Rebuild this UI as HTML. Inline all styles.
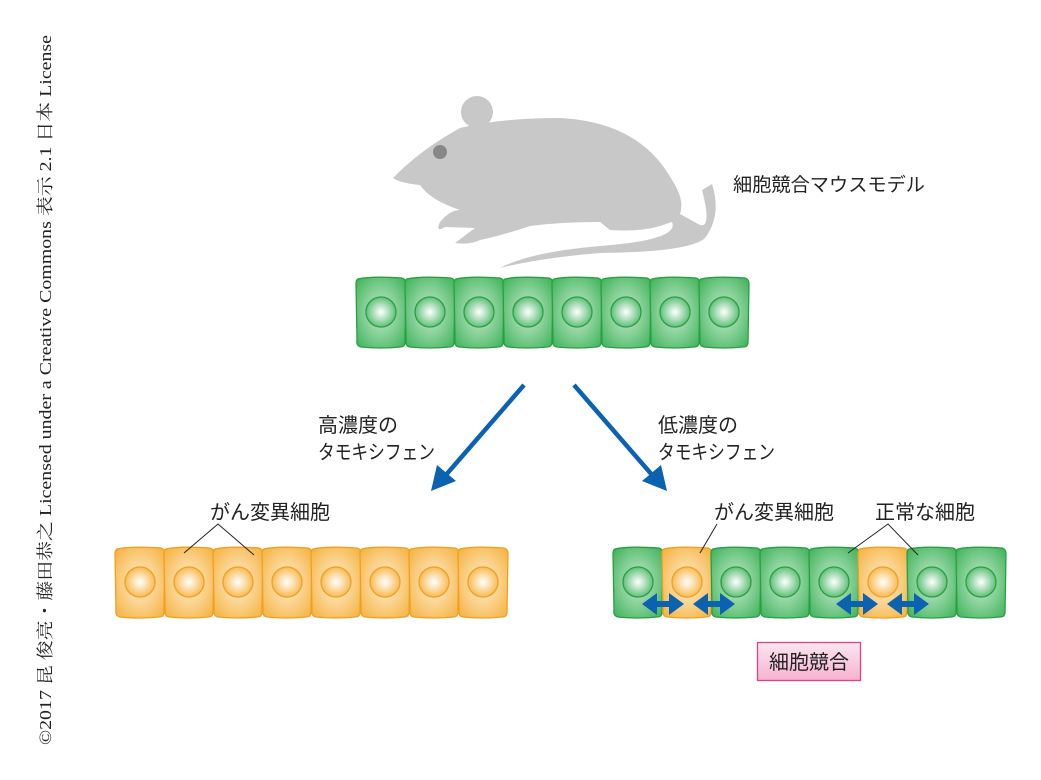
<!DOCTYPE html>
<html><head><meta charset="utf-8"><style>
html,body{margin:0;padding:0;background:#fff}
svg{display:block}
text{font-family:"Liberation Sans","Noto Sans CJK JP",sans-serif;fill:#222}
</style></head><body>
<svg width="1041" height="780" viewBox="0 0 1041 780" xmlns="http://www.w3.org/2000/svg">
<defs>
<radialGradient id="gb" cx="0.5" cy="0.5" r="0.65"><stop offset="0" stop-color="#c8ebd0"/><stop offset="1" stop-color="#45b55f"/></radialGradient>
<radialGradient id="gn" cx="0.5" cy="0.5" r="0.5"><stop offset="0" stop-color="#ffffff"/><stop offset="1" stop-color="#62c07a"/></radialGradient>
<radialGradient id="ob" cx="0.5" cy="0.5" r="0.65"><stop offset="0" stop-color="#ffefd2"/><stop offset="1" stop-color="#f6b445"/></radialGradient>
<radialGradient id="on" cx="0.5" cy="0.5" r="0.5"><stop offset="0" stop-color="#ffffff"/><stop offset="1" stop-color="#f8bb55"/></radialGradient>
<linearGradient id="pk" x1="0" y1="0" x2="0" y2="1"><stop offset="0" stop-color="#fde6f0"/><stop offset="1" stop-color="#f5b3cf"/></linearGradient>
<g id="gc"><path d="M-23,-33 Q-10,-36 21,-34 Q25,-33 25,-28 L24,30 Q24,35 19,35 Q0,37 -20,35 Q-25,34 -24,28 L-25,-28 Q-25,-32 -23,-33Z" fill="url(#gb)" stroke="#28a040" stroke-width="1.3"/><circle r="15" fill="url(#gn)" stroke="#28a040" stroke-width="1.3"/></g>
<g id="oc"><path d="M-23,-33 Q-10,-36 21,-34 Q25,-33 25,-28 L24,30 Q24,35 19,35 Q0,37 -20,35 Q-25,34 -24,28 L-25,-28 Q-25,-32 -23,-33Z" fill="url(#ob)" stroke="#f0a020" stroke-width="1.3"/><circle r="15" fill="url(#on)" stroke="#f0a020" stroke-width="1.3"/></g>
<path id="da" d="M0,0 L15,-11 L15,-3 L27,-3 L27,-11 L42,0 L27,11 L27,3 L15,3 L15,11Z" fill="#0a62b0"/>
</defs>

<text transform="translate(51,745) rotate(-90)" style="font-family:'Liberation Serif','Noto Serif CJK SC',serif;font-size:17px" textLength="710" lengthAdjust="spacingAndGlyphs">©2017 昆 俊亮・藤田恭之 Licensed under a Creative Commons 表示 2.1 日本 License</text>

<!-- mouse -->
<g fill="#c8c8c9">
<circle cx="477" cy="112" r="16"/>
<path d="M393,178 Q420,150 460,128 Q500,118 560,118 Q640,122 672,180 Q685,200 680,214 L700,225 Q712,228 702,190 L712,184 Q722,215 705,238 Q690,252 600,253 Q540,258 500,268 Q530,252 600,246 Q680,240 672,222 L660,226 Q640,232 610,230 L600,222 Q560,222 530,226 Q500,236 480,240 Q470,245 455,243 L475,228 L445,227 Q435,233 440,222 Q450,210 460,210 Q430,200 420,185 Q400,183 393,178Z"/>
</g>
<circle cx="440" cy="152" r="7" fill="#888"/>
<text x="733" y="191" font-size="19" textLength="192" lengthAdjust="spacingAndGlyphs">細胞競合マウスモデル</text>

<!-- top row -->
<g transform="translate(0,312)">
<use href="#gc" x="381"/><use href="#gc" x="430"/><use href="#gc" x="479"/><use href="#gc" x="528"/><use href="#gc" x="577"/><use href="#gc" x="626"/><use href="#gc" x="675"/><use href="#gc" x="724"/>
</g>

<!-- arrows -->
<g stroke="#0a62b0" stroke-width="4.5" fill="none"><line x1="524" y1="385" x2="445" y2="476"/><line x1="574" y1="385" x2="653" y2="476"/></g>
<path d="M431,491 L437,465 L456,481Z" fill="#0a62b0"/>
<path d="M667,491 L661,465 L642,481Z" fill="#0a62b0"/>
<text x="318" y="432" font-size="20">高濃度の</text>
<text x="318" y="459" font-size="20" textLength="117" lengthAdjust="spacingAndGlyphs">タモキシフェン</text>
<text x="658" y="432" font-size="20">低濃度の</text>
<text x="658" y="459" font-size="20" textLength="117" lengthAdjust="spacingAndGlyphs">タモキシフェン</text>

<!-- left row -->
<text x="210" y="519" font-size="20">がん変異細胞</text>
<g transform="translate(0,582)">
<use href="#oc" x="140"/><use href="#oc" x="189"/><use href="#oc" x="238"/><use href="#oc" x="287"/><use href="#oc" x="336"/><use href="#oc" x="385"/><use href="#oc" x="434"/><use href="#oc" x="483"/>
</g>
<polyline points="184,553 218,524 254,555" fill="none" stroke="#222" stroke-width="1"/>

<!-- right row -->
<text x="714" y="519" font-size="20">がん変異細胞</text>
<text x="875" y="519" font-size="20">正常な細胞</text>
<g transform="translate(0,582)">
<use href="#gc" x="638"/><use href="#oc" x="687"/><use href="#gc" x="736"/><use href="#gc" x="785"/><use href="#gc" x="834"/><use href="#oc" x="883"/><use href="#gc" x="932"/><use href="#gc" x="981"/>
</g>
<line x1="717" y1="524" x2="700" y2="553" stroke="#222" stroke-width="1"/>
<polyline points="848,553 888,524 918,555" fill="none" stroke="#222" stroke-width="1"/>
<use href="#da" x="642" y="604"/><use href="#da" x="693" y="604"/>
<use href="#da" x="836" y="604"/><use href="#da" x="887" y="604"/>

<rect x="757.5" y="642.5" width="103" height="38" fill="url(#pk)" stroke="#e0408a" stroke-width="1.3"/>
<text x="809" y="669" font-size="20" text-anchor="middle">細胞競合</text>
</svg>
</body></html>
